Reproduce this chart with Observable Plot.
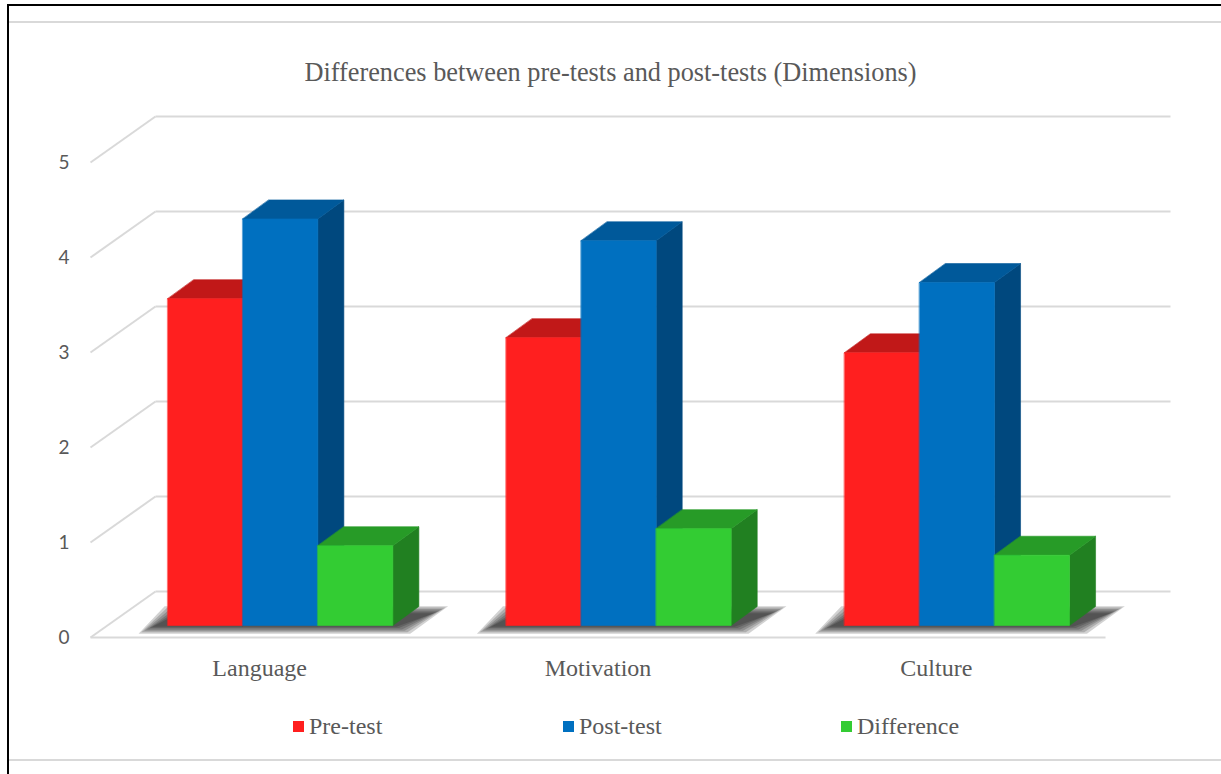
<!DOCTYPE html>
<html><head><meta charset="utf-8">
<script src="https://cdn.jsdelivr.net/npm/d3@7"></script>
<script src="https://cdn.jsdelivr.net/npm/@observablehq/plot@0.6"></script>
<style>
body{margin:0;background:#fff;width:1221px;height:774px;overflow:hidden;position:relative;font-family:"Liberation Serif","Times New Roman",serif;}
.ln{position:absolute;}
#tb{left:7px;top:4px;width:1214px;height:2px;background:#000}
#lb{left:7px;top:4px;width:2px;height:770px;background:#000}
#ct{left:9px;top:21px;width:1212px;height:2px;background:#d9d9d9}
#cb{left:9px;top:759px;width:1212px;height:2px;background:#d9d9d9}
#title{position:absolute;top:56px;left:0;width:1221px;text-align:center;font-size:26.3px;color:#595959;line-height:34px;white-space:nowrap}
#chart{position:absolute;left:0;top:95px}
.lg{position:absolute;top:712px;height:28px;display:flex;align-items:center;font-size:24px;color:#595959;white-space:nowrap}
.sw{width:11px;height:11px;margin-right:5px;display:inline-block}
</style></head>
<body>
<div class="ln" id="tb"></div><div class="ln" id="lb"></div>
<div class="ln" id="ct"></div><div class="ln" id="cb"></div>
<div id="title">Differences between pre-tests and post-tests (Dimensions)</div>
<div id="chart"></div>
<div id="legend"></div>
<script>
const categories = ["Language", "Motivation", "Culture"];
const series = ["Pre-test", "Post-test", "Difference"];
const preTest = [3.44, 3.03, 2.87];
const postTest = [4.28, 4.05, 3.61];
const difference = [0.84, 1.02, 0.74];
const yTicks = [0, 1, 2, 3, 4, 5];
const frontColors = ["#FF1F1F", "#0070C0", "#33CC33"];
const topColors = ["#C11818", "#00599A", "#279B27"];
const sideColors = ["#8F1212", "#00487E", "#218021"];

const values = [preTest, postTest, difference];

// oblique-projection geometry, in data units
const floorDX = 0.192, floorDY = 0.484;   // full floor depth
const barDX0 = 0.061, barDY0 = 0.126;     // bar front plane offset
const barDX = 0.077, barDY = 0.2;         // bar depth
const barW = 0.2217;                      // bar width
const pxX = 1 / 338.3, pxY = 1 / 95;      // one pixel in data units

const polys = [];
const shadows = [];
let pid = 0;
categories.forEach((c, i) => {
  const left = i + 0.5 + barDX0 - 1.5 * barW;
  const right = left + 3 * barW;
  const yb = barDY0;
  // soft shadow: stacked translucent layers
  for (let j = 5; j >= 0; j--) {
    const ex = j * 2.8 * pxX, ey = j * 1.4 * pxY;
    const sid = "s" + i + "_" + j;
    [[left - 0.045 - ex, yb - 0.012 - ey], [right + 0.01 + ex, yb - 0.012 - ey],
     [right + barDX + 0.045 + ex, yb + barDY * 0.65 + ey], [left + barDX - 0.045 - ex, yb + barDY * 0.65 + ey]]
      .forEach(([x, y]) => shadows.push({id: sid, x, y}));
  }
  series.forEach((s, k) => {
    const v = values[k][i];
    const x0 = left + k * barW, x1 = x0 + barW, yt = v + yb;
    const faces = [
      [sideColors[k], [[x1, yb], [x1 + barDX, yb + barDY], [x1 + barDX, yt + barDY], [x1, yt]]],
      [topColors[k], [[x0, yt], [x1, yt], [x1 + barDX, yt + barDY], [x0 + barDX, yt + barDY]]],
      [frontColors[k], [[x0, yb], [x1, yb], [x1, yt], [x0, yt]]]
    ];
    faces.forEach(([color, pts]) => {
      const id = "p" + (pid++);
      pts.forEach(([x, y]) => polys.push({id, color, x, y}));
    });
  });
});

const backGrid = yTicks.map(v => ({x1: floorDX, x2: 3 + floorDX, y1: v + floorDY, y2: v + floorDY}));
const diagGrid = yTicks.map(v => ({x1: 0, x2: floorDX, y1: v, y2: v + floorDY}));
const frontFloor = [{x1: 0, x2: 3, y1: 0, y2: 0}];
const catLabels = categories.map((c, i) => ({c, x: i + 0.5, y: 0}));

const svg = Plot.plot({
  width: 1221, height: 600,
  marginLeft: 90, marginRight: 51, marginTop: 21, marginBottom: 58,
  x: {type: "linear", domain: [0, 3 + floorDX], axis: null},
  y: {type: "linear", domain: [0, 5 + floorDY], axis: null},
  color: {type: "identity"},
  style: {background: "transparent", overflow: "visible"},
  marks: [
    Plot.link(backGrid, {x1: "x1", x2: "x2", y1: "y1", y2: "y2", stroke: "#d9d9d9", strokeWidth: 2}),
    Plot.link(diagGrid, {x1: "x1", x2: "x2", y1: "y1", y2: "y2", stroke: "#d9d9d9", strokeWidth: 2}),
    Plot.link(frontFloor, {x1: "x1", x2: "x2", y1: "y1", y2: "y2", stroke: "#d9d9d9", strokeWidth: 2}),
    Plot.line(shadows, {x: "x", y: "y", z: "id", fill: "#111111", fillOpacity: 0.19, curve: "linear-closed"}),
    Plot.line(polys, {x: "x", y: "y", z: "id", fill: "color", stroke: "color", strokeWidth: 0.6, curve: "linear-closed"}),
    Plot.text(yTicks, {x: 0, y: d => d, text: d => String(d), dx: -21, textAnchor: "end", fontSize: 19, fontFamily: "Lato, 'Open Sans', sans-serif", fill: "#595959"}),
    Plot.text(catLabels, {x: "x", y: "y", text: "c", dy: 31, fontSize: 24, fontFamily: "'Liberation Serif', 'Times New Roman', serif", fill: "#595959"})
  ]
});

document.getElementById("chart").appendChild(svg);

const legendX = [293, 563, 841];
const legend = document.getElementById("legend");
series.forEach((s, k) => {
  const item = document.createElement("div");
  item.className = "lg";
  item.style.left = legendX[k] + "px";
  const sw = document.createElement("span");
  sw.className = "sw";
  sw.style.background = frontColors[k];
  item.appendChild(sw);
  item.appendChild(document.createTextNode(s));
  legend.appendChild(item);
});
</script>
</body></html>
